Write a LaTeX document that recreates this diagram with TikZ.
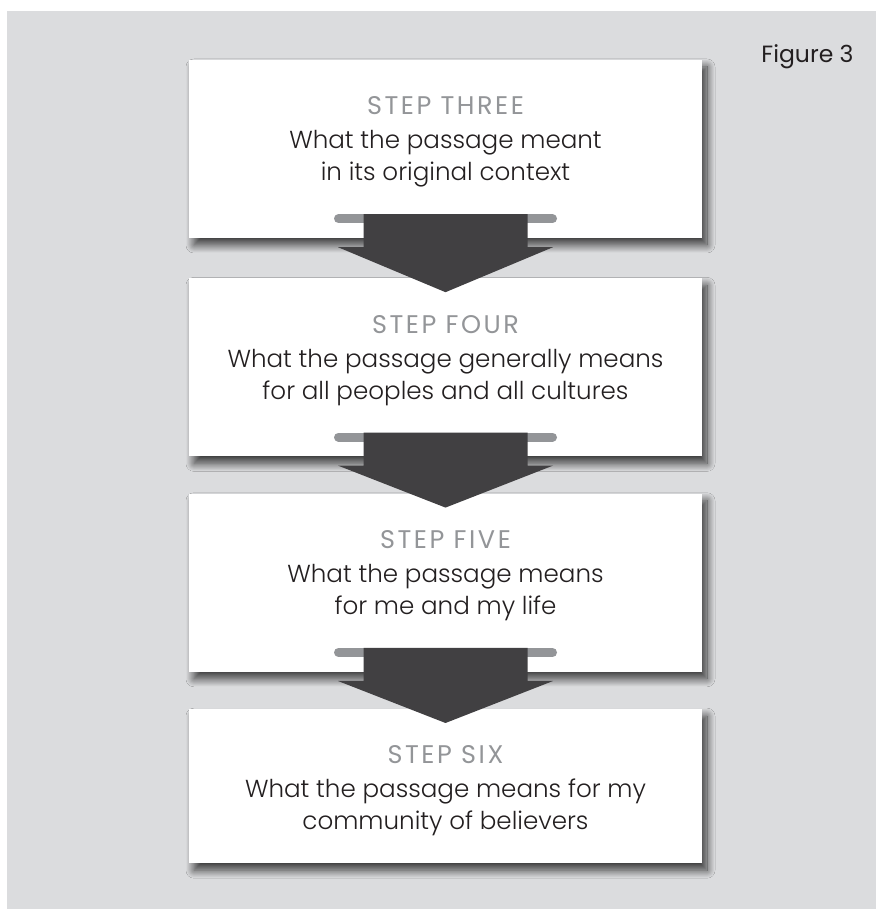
\documentclass[tikz,border=0pt]{standalone}
\usepackage{fontspec}
\setmainfont{Poppins}[UprightFont={* Light}]
\newfontfamily\headfont{Poppins}[LetterSpace=10]
\newfontfamily\figfont{Poppins}
\usetikzlibrary{positioning,shadows.blur}

\definecolor{panel}{HTML}{DBDCDE}
\definecolor{ink}{HTML}{231F20}
\definecolor{stepgray}{HTML}{939598}
\definecolor{arrowgray}{HTML}{414042}

% grey heading inside each step box
\newcommand\steptitle[1]{{\headfont\color{stepgray}\fontsize{25.5}{30}\selectfont #1}\\[2pt]}

\begin{document}
\begin{tikzpicture}[x=1pt, y=1pt,
    stepbox/.style={fill=white, inner sep=0pt, minimum width=513pt, minimum height=178pt,
      blur shadow={shadow xshift=5pt, shadow yshift=-7pt, shadow blur radius=8pt,
        shadow blur steps=20, shadow opacity=75}},
    steptext/.style={align=center, text=ink, inner sep=0pt, font=\fontsize{24.6}{32}\selectfont},
    bar/.style={draw=stepgray, line width=9pt, line cap=round},
    arrowfill/.style={fill=arrowgray}]
\useasboundingbox (0,0) rectangle (876,909);
\fill[white] (0,0) rectangle (876,909);
\fill[panel] (7,0) rectangle (876,898);

\node[anchor=base east, text=ink, font=\figfont\fontsize{23.5}{26}\selectfont] (figure) at (857,846) {Figure 3};

% the four steps
\node[stepbox] (three) at (445.5,760) {};
\node[stepbox, below=40pt of three] (four) {};
\node[stepbox, below=37pt of four] (five) {};
\node[stepbox, minimum height=154pt, below=37pt of five] (six) {};

\node[steptext] (three-text) at ([yshift=-82pt]three.north)
  {\steptitle{STEP THREE}What the passage meant\\in its original context};
\node[steptext] (four-text) at ([yshift=-82pt]four.north)
  {\steptitle{STEP FOUR}What the passage generally means\\for all peoples and all cultures};
\node[steptext] (five-text) at ([yshift=-82pt]five.north)
  {\steptitle{STEP FIVE}What the passage means\\for me and my life};
\node[steptext] (six-text) at ([yshift=-82pt]six.north)
  {\steptitle{STEP SIX}What the passage means for my\\community of believers};

% block arrows between the steps
\foreach \a/\b in {three/four, four/five, five/six} {
  \draw[bar] ([shift={(-107,19.5)}]\a.south) -- ([shift={(107,19.5)}]\a.south);
  \fill[arrowfill] ([shift={(-82,24)}]\a.south) -- ([shift={(82,24)}]\a.south)
    -- ([shift={(82,-9)}]\a.south) -- ([shift={(107.5,-9)}]\a.south)
    -- ([yshift=-14pt]\b.north)
    -- ([shift={(-107.5,-9)}]\a.south) -- ([shift={(-82,-9)}]\a.south) -- cycle;
}
\end{tikzpicture}
\end{document}
